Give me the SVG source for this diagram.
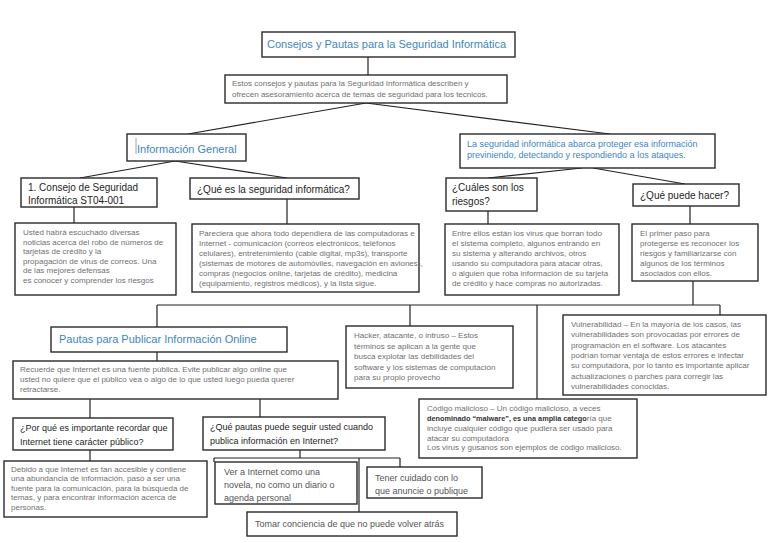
<svg xmlns="http://www.w3.org/2000/svg" width="768" height="543" viewBox="0 0 768 543">
<style>
.b{fill:#fff;stroke:#2a2a2a;stroke-width:1.4}
.c line,.c polyline{stroke:#222;stroke-width:1.2;fill:none}
text{font-family:"Liberation Sans",Arial,sans-serif}
.t{fill:#3d86c6;font-size:11px}
.tb{fill:#3d86c6;font-size:9px}
.h{fill:#1e1e1e;font-size:10px}
.q{fill:#1e1e1e;font-size:9px}
.s{fill:#707070;font-size:8px}
.g{fill:#555;font-size:9px}
</style>
<rect width="768" height="543" fill="#fff"/>
<g class="c">
<line x1="368" y1="57" x2="368" y2="75"/>
<line x1="366" y1="103" x2="188" y2="134"/>
<line x1="366" y1="103" x2="610" y2="134"/>
<line x1="175" y1="161" x2="80" y2="178"/>
<line x1="175" y1="161" x2="287" y2="178"/>
<line x1="74" y1="207" x2="74" y2="223"/>
<line x1="287" y1="199" x2="287" y2="224"/>
<line x1="582" y1="168" x2="488" y2="178"/>
<line x1="593" y1="168" x2="685" y2="184"/>
<line x1="488" y1="211" x2="488" y2="224"/>
<line x1="690" y1="206" x2="690" y2="224"/>
<line x1="693" y1="281" x2="693" y2="305"/>
<line x1="157" y1="305" x2="720" y2="305"/>
<line x1="157" y1="305" x2="157" y2="327"/>
<line x1="410" y1="305" x2="410" y2="326"/>
<line x1="537" y1="305" x2="537" y2="399"/>
<line x1="720" y1="305" x2="720" y2="315"/>
<line x1="157" y1="352" x2="157" y2="361"/>
<line x1="90" y1="399" x2="90" y2="418"/>
<line x1="260" y1="399" x2="260" y2="417"/>
<line x1="90" y1="450" x2="90" y2="461"/>
<line x1="300" y1="450" x2="300" y2="458"/>
<line x1="214" y1="458" x2="400" y2="458"/>
<line x1="214" y1="458" x2="214" y2="462"/>
<line x1="359" y1="458" x2="359" y2="512"/>
<line x1="400" y1="458" x2="400" y2="467"/>
</g>
<g id="title"><rect class="b" x="262" y="32" width="253" height="25"/><text class="t" x="267" y="48">Consejos y Pautas para la Seguridad Informática</text></g>
<g id="desc"><rect class="b" x="225" y="75" width="282" height="28"/><text class="s"><tspan x="232" y="86">Estos consejos y pautas para la Seguridad Informática describen y</tspan><tspan x="232" y="97">ofrecen asesoramiento acerca de temas de seguridad para los tecnicos.</tspan></text></g>
<g id="infogeneral"><rect class="b" x="127" y="134" width="119" height="27"/><line x1="136" y1="138" x2="136" y2="154" stroke="#8a8a8a" stroke-width="0.8"/><text class="t" x="137" y="153">Información General</text></g>
<g id="consejo"><rect class="b" x="21" y="178" width="136" height="29"/><text class="h"><tspan x="28" y="191">1. Consejo de Seguridad</tspan><tspan x="28" y="204">Informática ST04-001</tspan></text></g>
<g id="quees"><rect class="b" x="190" y="178" width="169" height="21"/><text class="h" x="197" y="193">¿Qué es la seguridad informática?</text></g>
<g id="usted"><rect class="b" x="15" y="223" width="161" height="72"/><text class="s"><tspan x="23" y="235">Usted habrá escuchado diversas</tspan><tspan x="23" y="244.6">noticias acerca del robo de números de</tspan><tspan x="23" y="254.2">tarjetas de crédito y la</tspan><tspan x="23" y="263.8">propagación de virus de correos. Una</tspan><tspan x="23" y="273.4">de las mejores defensas</tspan><tspan x="23" y="283">es conocer y comprender los riesgos</tspan></text></g>
<g id="pareciera"><rect class="b" x="192" y="224" width="227" height="68"/><text class="s"><tspan x="199" y="236">Pareciera que ahora todo dependiera de las computadoras e</tspan><tspan x="199" y="246">Internet - comunicación (correos electrónicos, teléfonos</tspan><tspan x="199" y="256">celulares), entretenimiento (cable digital, mp3s), transporte</tspan><tspan x="199" y="266">(sistemas de motores de automóviles, navegación en aviones),</tspan><tspan x="199" y="276">compras (negocios online, tarjetas de crédito), medicina</tspan><tspan x="199" y="286">(equipamiento, registros médicos), y la lista sigue.</tspan></text></g>
<g id="abarca"><rect class="b" x="460" y="134" width="255" height="34"/><text class="tb"><tspan x="467" y="147">La seguridad informática abarca proteger esa información</tspan><tspan x="467" y="158">previniendo, detectando y respondiendo a los ataques.</tspan></text></g>
<g id="cuales"><rect class="b" x="446" y="178" width="91" height="33"/><text class="h"><tspan x="452" y="191">¿Cuáles son los</tspan><tspan x="452" y="205">riesgos?</tspan></text></g>
<g id="quepuede"><rect class="b" x="633" y="184" width="106" height="22"/><text class="h" x="640" y="199">¿Qué puede hacer?</text></g>
<g id="entre"><rect class="b" x="445" y="224" width="174" height="71"/><text class="s"><tspan x="452" y="236">Entre ellos están los virus que borran todo</tspan><tspan x="452" y="246">el sistema completo, algunos entrando en</tspan><tspan x="452" y="256">su sistema y alterando archivos, otros</tspan><tspan x="452" y="266">usando su computadora para atacar otras,</tspan><tspan x="452" y="276">o alguien que roba información de su tarjeta</tspan><tspan x="452" y="286">de crédito y hace compras no autorizadas.</tspan></text></g>
<g id="primer"><rect class="b" x="632" y="224" width="126" height="57"/><text class="s"><tspan x="640" y="236">El primer paso para</tspan><tspan x="640" y="246">protegerse es reconocer los</tspan><tspan x="640" y="256">riesgos y familiarizarse con</tspan><tspan x="640" y="266">algunos de los términos</tspan><tspan x="640" y="276">asociados con ellos.</tspan></text></g>
<g id="pautas"><rect class="b" x="51" y="327" width="236" height="25"/><text class="t" x="59" y="343">Pautas para Publicar Información Online</text></g>
<g id="hacker"><rect class="b" x="346" y="326" width="167" height="62"/><text class="s"><tspan x="354" y="338">Hacker, atacante, o intruso – Estos</tspan><tspan x="354" y="348.5">términos se aplican a la gente que</tspan><tspan x="354" y="359">busca explotar las debilidades del</tspan><tspan x="354" y="369.5">software y los sistemas de computación</tspan><tspan x="354" y="380">para su propio provecho</tspan></text></g>
<g id="vuln"><rect class="b" x="563" y="315" width="203" height="80"/><text class="s"><tspan x="571" y="327">Vulnerabilidad – En la mayoría de los casos, las</tspan><tspan x="571" y="337.3">vulnerabilidades son provocadas por errores de</tspan><tspan x="571" y="347.6">programación en el software. Los atacantes</tspan><tspan x="571" y="357.9">podrían tomar ventaja de estos errores e infectar</tspan><tspan x="571" y="368.2">su computadora, por lo tanto es importante aplicar</tspan><tspan x="571" y="378.5">actualizaciones o parches para corregir las</tspan><tspan x="571" y="388.8">vulnerabilidades conocidas.</tspan></text></g>
<g id="recuerde"><rect class="b" x="13" y="361" width="325" height="38"/><text class="s"><tspan x="20" y="372">Recuerde que Internet es una fuente pública. Evite publicar algo online que</tspan><tspan x="20" y="382">usted no quiere que el público vea o algo de lo que usted luego pueda querer</tspan><tspan x="20" y="392">retractarse.</tspan></text></g>
<g id="porque"><rect class="b" x="13" y="418" width="160" height="32"/><text class="q"><tspan x="20" y="431">¿Por qué es importante recordar que</tspan><tspan x="20" y="445">Internet tiene carácter público?</tspan></text></g>
<g id="quepautas"><rect class="b" x="203" y="417" width="182" height="33"/><text class="q"><tspan x="210" y="430">¿Qué pautas puede seguir usted cuando</tspan><tspan x="210" y="444">publica información en Internet?</tspan></text></g>
<g id="debido"><rect class="b" x="4" y="461" width="203" height="56"/><text class="s"><tspan x="11" y="472">Debido a que Internet es tan accesible y contiene</tspan><tspan x="11" y="481.4">una abundancia de información, pasó a ser una</tspan><tspan x="11" y="490.8">fuente para la comunicación, para la búsqueda de</tspan><tspan x="11" y="500.2">temas, y para encontrar información acerca de</tspan><tspan x="11" y="509.6">personas.</tspan></text></g>
<g id="ver"><rect class="b" x="215" y="462" width="142" height="42"/><text class="g"><tspan x="224" y="475">Ver a Internet como una</tspan><tspan x="224" y="488">novela, no como un diario o</tspan><tspan x="224" y="501">agenda personal</tspan></text></g>
<g id="tener"><rect class="b" x="367" y="467" width="115" height="31"/><text class="g"><tspan x="375" y="481">Tener cuidado con lo</tspan><tspan x="375" y="494">que anuncie o publique</tspan></text></g>
<g id="tomar"><rect class="b" x="247" y="512" width="210" height="24"/><text class="g" x="255" y="527">Tomar conciencia de que no puede volver atrás</text></g>
<g id="codigo"><rect class="b" x="419" y="399" width="218" height="59"/><text class="s"><tspan x="427" y="411">Código malicioso – Un código malicioso, a veces</tspan><tspan x="427" y="421"><tspan fill="#333" font-weight="bold" font-size="7.3">denominado “malware”, es una amplia catego</tspan>ría que</tspan><tspan x="427" y="431">incluye cualquier código que pudiera ser usado para</tspan><tspan x="427" y="440.5">atacar su computadora</tspan><tspan x="427" y="450">Los virus y gusanos son ejemplos de código malicioso.</tspan></text></g>
</svg>
